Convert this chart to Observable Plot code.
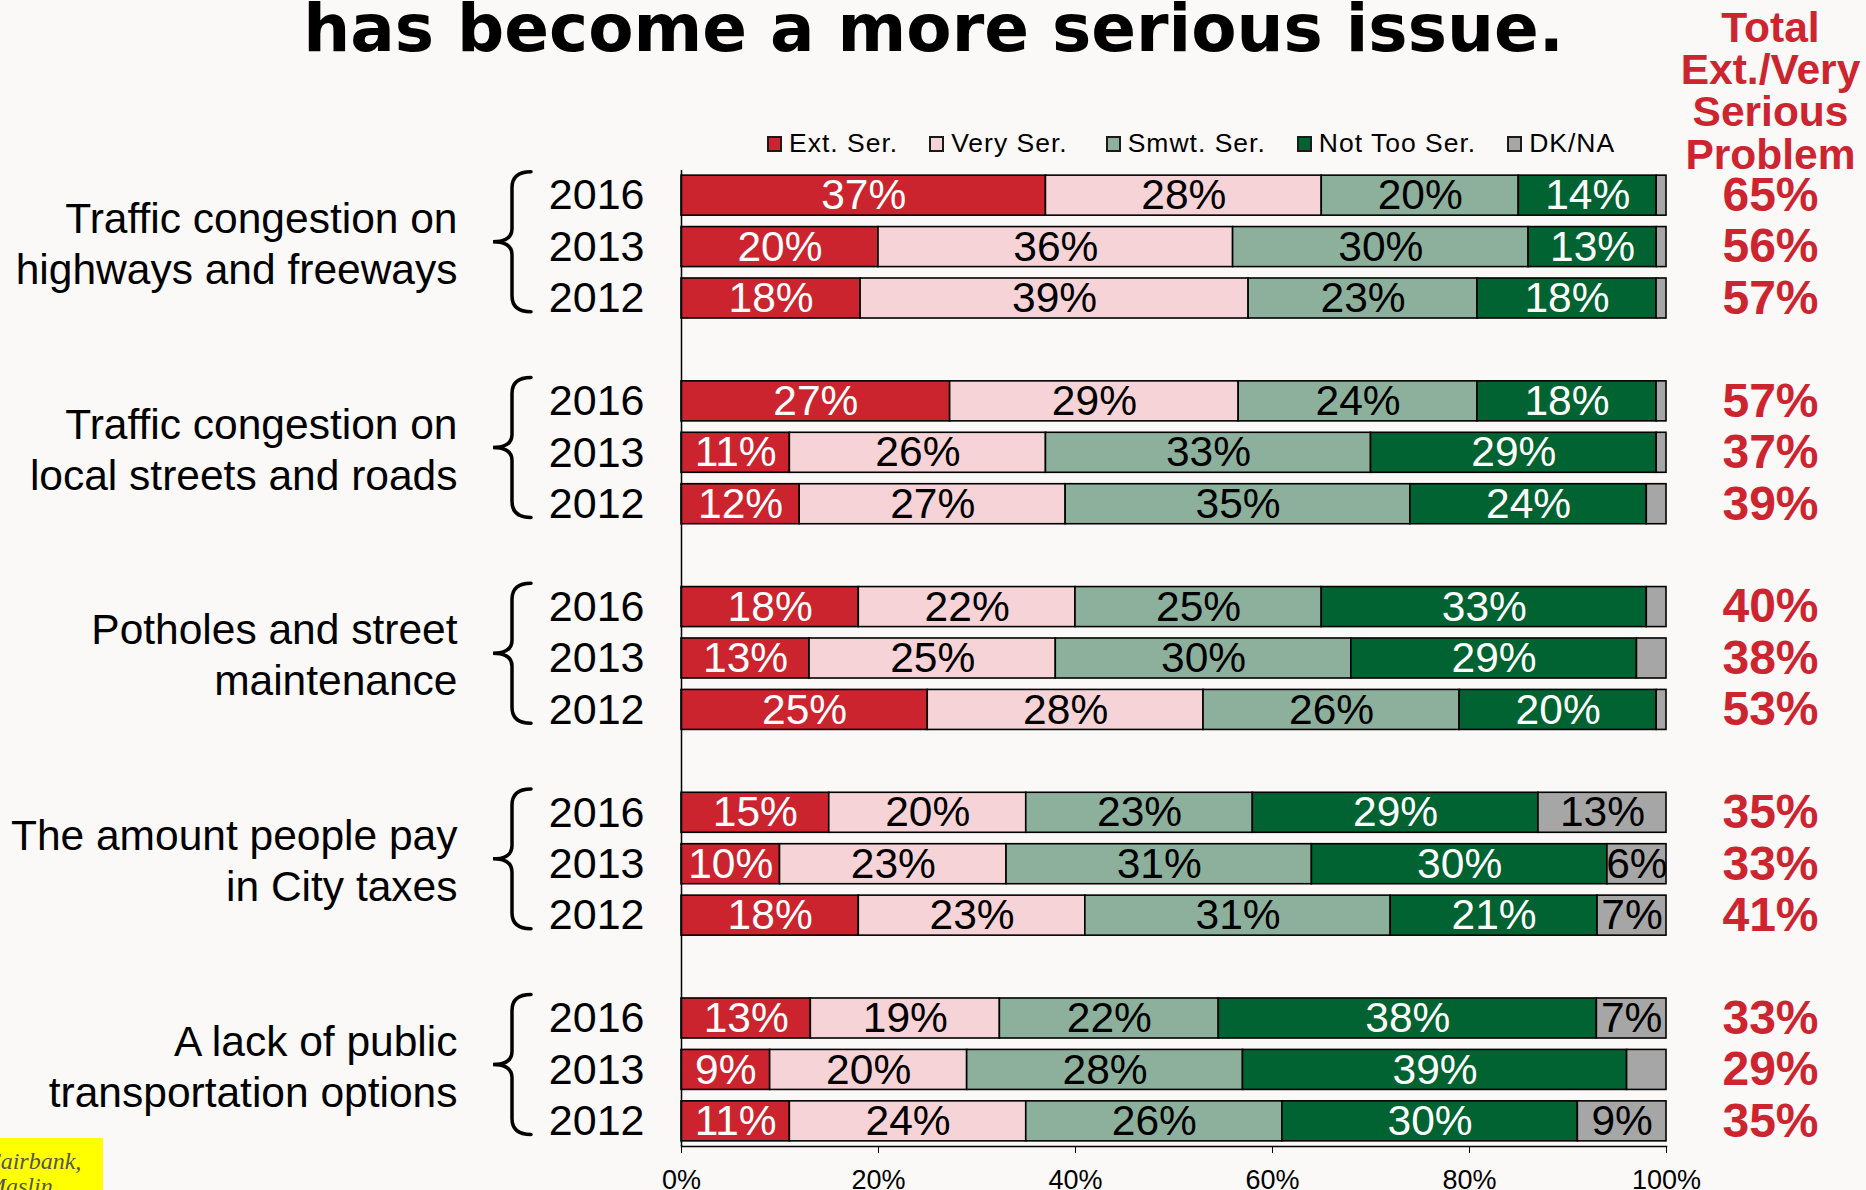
<!DOCTYPE html>
<html>
<head>
<meta charset="utf-8">
<script src="https://cdn.jsdelivr.net/npm/d3@7"></script>
<script src="https://cdn.jsdelivr.net/npm/@observablehq/plot@0.6"></script>
<style>
  html, body { margin: 0; padding: 0; background: #faf9f7; }
  #wrap { position: relative; width: 1866px; height: 1190px; overflow: hidden; background: #faf9f7; }
  #chart { position: absolute; left: 0; top: 0; }
  #legend { position: absolute; left: 768px; top: 127px; width: max-content; }
  .lg-swatches { font-family: "Liberation Sans", Arial, sans-serif; font-size: 26.5px; letter-spacing: 1px; color: #000; margin: 0; }
  .lg-swatches-wrap { min-height: 33px; display: inline-flex; align-items: center; flex-wrap: nowrap; }
  .lg-swatch { margin-right: 32px; display: inline-flex; align-items: center; }
  .lg-swatch:nth-child(3) { margin-right: 39px; }
  .lg-swatch > svg { margin-right: 8px; overflow: visible; }
  .lg-swatch rect { stroke: #1a1a1a; stroke-width: 2; }
  #logo { position: absolute; left: 0; top: 1138px; width: 103px; height: 60px; background: #ffff00; overflow: hidden; }
  #logo div { position: absolute; left: -14px; top: 11px; font-family: "Liberation Serif", "DejaVu Serif", serif; font-style: italic; font-size: 24px; line-height: 25px; color: #555; white-space: nowrap; }
</style>
</head>
<body>
<div id="wrap">
  <div id="chart"></div>
  <div id="legend"></div>
  <div id="logo"><div>Fairbank,<br>Maslin</div></div>
</div>
<script>
// ---- data ----
const titleLine = "has become a more serious issue.";
const headerText = "Total\nExt./Very\nSerious\nProblem";
const categories = ["Ext. Ser.", "Very Ser.", "Smwt. Ser.", "Not Too Ser.", "DK/NA"];
const colors = ["#cc242e", "#f6d3d6", "#8cb09c", "#006331", "#a6a6a6"];
const labelColors = ["#ffffff", "#000000", "#000000", "#ffffff", "#000000"];
const issues = [
  "Traffic congestion on\nhighways and freeways",
  "Traffic congestion on\nlocal streets and roads",
  "Potholes and street\nmaintenance",
  "The amount people pay\nin City taxes",
  "A lack of public\ntransportation options"
];
const years = ["2016", "2013", "2012"];
const extSer    = [[37, 20, 18], [27, 11, 12], [18, 13, 25], [15, 10, 18], [13, 9, 11]];
const verySer   = [[28, 36, 39], [29, 26, 27], [22, 25, 28], [20, 23, 23], [19, 20, 24]];
const smwtSer   = [[20, 30, 23], [24, 33, 35], [25, 30, 26], [23, 31, 31], [22, 28, 26]];
const notTooSer = [[14, 13, 18], [18, 29, 24], [33, 29, 20], [29, 30, 21], [38, 39, 30]];
const dkNa      = [[1, 1, 1], [1, 1, 2], [2, 3, 1], [13, 6, 7], [7, 4, 9]];
const totals    = [[65, 56, 57], [57, 37, 39], [40, 38, 53], [35, 33, 41], [33, 29, 35]];
const xTicks = [0, 0.2, 0.4, 0.6, 0.8, 1];
const red = "#cd2530";

// ---- build tables ----
const series = [extSer, verySer, smwtSer, notTooSer, dkNa];
const rows = [];
const totalRows = [];
const domainY = [];
const groupRows = [];
issues.forEach((issue, g) => {
  years.forEach((yr, j) => {
    const key = `g${g}|${yr}`;
    domainY.push(key);
    categories.forEach((c, k) => rows.push({key, cat: c, k, value: series[k][g][j]}));
    totalRows.push({key, total: totals[g][j]});
  });
  groupRows.push({label: issue, top: `g${g}|${years[0]}`, mid: `g${g}|${years[1]}`, bottom: `g${g}|${years[2]}`});
  if (g < issues.length - 1) domainY.push(`gap${g}`);
});

function bandwidthOf(s) {
  if (typeof s.bandwidth === "function") return s.bandwidth();
  if (typeof s.bandwidth === "number") return s.bandwidth;
  return 40;
}

function braces(index, scales, values, dimensions) {
  const y = scales.y;
  const bw = bandwidthOf(y);
  const ml = dimensions.marginLeft;
  const xEnd = ml - 150, xLine = ml - 169, xTip = ml - 188;
  const g = d3.create("svg:g").attr("fill", "none").attr("stroke", "#000").attr("stroke-width", 3.5).attr("stroke-linecap", "round");
  for (const d of groupRows) {
    const T = y(d.top) - 3.4;
    const B = y(d.bottom) + bw - 6.3;
    const M = (T + B) / 2;
    const p = `M${xEnd},${T} Q${xLine},${T} ${xLine},${T + 16} L${xLine},${M - 13} Q${xLine},${M} ${xTip},${M} Q${xLine},${M} ${xLine},${M + 13} L${xLine},${B - 16} Q${xLine},${B} ${xEnd},${B}`;
    g.append("path").attr("d", p);
  }
  return g.node();
}

const colorOf = Object.fromEntries(categories.map((c, i) => [c, colors[i]]));
const labelColorOf = Object.fromEntries(categories.map((c, i) => [c, labelColors[i]]));

const chart = Plot.plot({
  width: 1866,
  height: 1190,
  marginTop: 170,
  marginBottom: 44,
  marginLeft: 681,
  marginRight: 200,
  style: {background: "transparent", fontFamily: "'Liberation Sans', Arial, sans-serif", fontSize: "25px", color: "#000", overflow: "visible"},
  x: {domain: [0, 1], label: null},
  y: {domain: domainY, paddingInner: 0.222, paddingOuter: 0.1, align: 0.5, round: false, label: null},
  color: {type: "identity"},
  marks: [
    Plot.barX(rows, Plot.stackX({offset: "normalize", order: null, x: "value", y: "key", fill: d => colorOf[d.cat], stroke: "#000", strokeWidth: 1.6})),
    Plot.text(rows, Plot.stackX({offset: "normalize", order: null, x: "value", y: "key",
      text: d => d.value >= 5 ? d.value + "%" : "", fill: d => labelColorOf[d.cat], fontSize: 42.5, lineAnchor: "middle"})),
    Plot.ruleX([0], {stroke: "#000", strokeWidth: 1.5}),
    Plot.frame({anchor: "bottom", stroke: "#000", strokeWidth: 1.5}),
    Plot.axisX({anchor: "bottom", ticks: xTicks, tickFormat: d3.format(".0%"), tickSize: 7, tickPadding: 16, fontSize: 27, label: null}),
    Plot.axisY({anchor: "left", tickSize: 0, tickPadding: 37, fontSize: 43, label: null,
      tickFormat: k => k.startsWith("gap") ? "" : k.split("|")[1]}),
    Plot.text(groupRows, {y: "mid", text: "label", frameAnchor: "left", dx: -224, dy: -5, textAnchor: "end", lineAnchor: "middle", lineHeight: 1.2, fontSize: 42.5, fill: "#000"}),
    braces,
    Plot.text(totalRows, {y: "key", text: d => d.total + "%", frameAnchor: "right", dx: 104, textAnchor: "middle", lineAnchor: "middle", fontSize: 48, fontWeight: "bold", fill: red}),
    Plot.text([headerText], {frameAnchor: "top-right", dx: 104, dy: -2, textAnchor: "middle", lineAnchor: "bottom", lineHeight: 0.99, fontSize: 42.5, fontWeight: "bold", fill: red}),
    Plot.text([titleLine], {frameAnchor: "top", dx: -240.5, dy: -120, textAnchor: "middle", lineAnchor: "bottom", fontSize: 66, fontWeight: "bold", fontFamily: "'DejaVu Sans', Verdana, sans-serif", fill: "#000"})
  ]
});
document.getElementById("chart").appendChild(chart);

const legend = Plot.legend({
  color: {domain: categories, range: colors},
  legend: "swatches",
  swatchWidth: 13,
  swatchHeight: 14,
  className: "lg"
});
document.getElementById("legend").appendChild(legend);
</script>
</body>
</html>
